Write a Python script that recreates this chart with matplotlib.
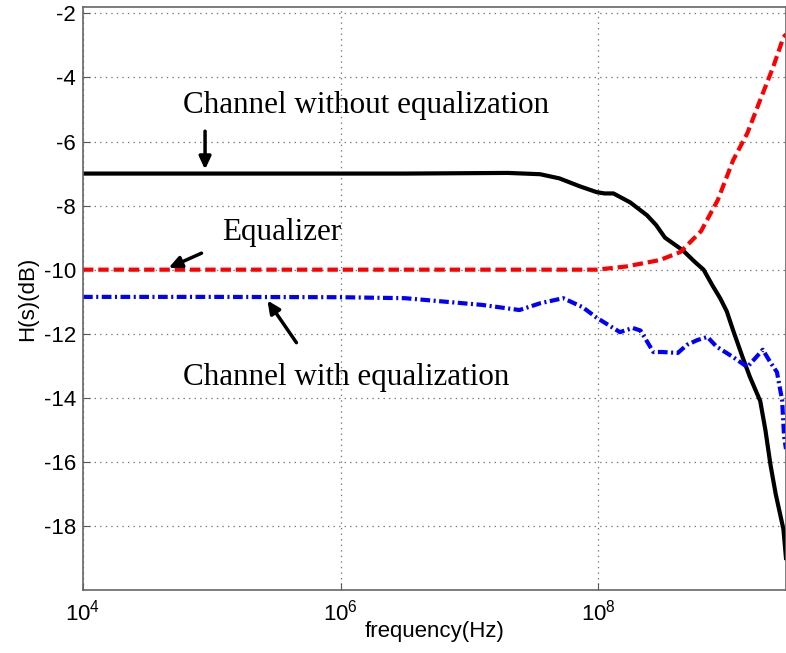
import numpy as np
import matplotlib
matplotlib.use('Agg')
import matplotlib.pyplot as plt

plt.rcParams['font.family'] = ['Liberation Sans', 'DejaVu Sans']
plt.rcParams['mathtext.fontset'] = 'custom'
plt.rcParams['mathtext.rm'] = 'Liberation Sans'
plt.rcParams['axes.unicode_minus'] = False
plt.rcParams['lines.scale_dashes'] = False

# log10(frequency) and gain in dB
ch_logf = [4.0, 6.5, 7.3, 7.55, 7.7, 7.86, 7.99, 8.05, 8.12, 8.25, 8.38, 8.45, 8.52,
           8.66, 8.75, 8.82, 8.89, 8.95, 9.0, 9.05, 9.12, 9.18, 9.26, 9.30, 9.34,
           9.38, 9.44, 9.46]
ch_db = [-7.0, -7.0, -6.98, -7.02, -7.15, -7.4, -7.58, -7.62, -7.62, -7.9, -8.3, -8.6, -9.0,
         -9.4, -9.75, -10.0, -10.5, -10.9, -11.3, -11.9, -12.7, -13.35, -14.1, -15.0, -16.1,
         -17.0, -18.1, -19.0]

eq_logf = [4.0, 7.5, 7.99, 8.22, 8.48, 8.64, 8.8, 8.93, 9.05, 9.16, 9.26, 9.36, 9.44, 9.46]
eq_db = [-10.0, -10.0, -10.0, -9.9, -9.7, -9.45, -8.8, -7.83, -6.58, -5.74, -4.7, -3.68,
         -2.75, -2.65]

cw_logf = [4.0, 5.0, 6.0, 6.5, 7.1, 7.39, 7.55, 7.73, 7.88, 7.99, 8.17, 8.27, 8.33, 8.43,
           8.50, 8.62, 8.69, 8.77, 8.85, 8.92, 9.05, 9.16, 9.28, 9.34, 9.39, 9.43, 9.445, 9.46]
cw_db = [-10.85, -10.85, -10.86, -10.89, -11.1, -11.26, -11.05, -10.89, -11.17, -11.5,
         -11.95, -11.82, -11.9, -12.57, -12.57, -12.6, -12.35, -12.2, -12.1, -12.4, -12.73,
         -13.04, -12.5, -12.9, -13.2, -14.07, -15.2, -15.6]

yticks = [-18, -16, -14, -12, -10, -8, -6, -4, -2]
xticks = [1e4, 1e6, 1e8]

fig = plt.figure(figsize=(7.86, 6.53), dpi=100)
ax = fig.add_axes([83/786, 63/653, 703/786, 583/653])

ax.plot(10**np.array(ch_logf), ch_db, color='k', lw=3)
ax.plot(10**np.array(eq_logf), eq_db, color='red', lw=3, dashes=(7.5, 3.5))
ax.plot(10**np.array(cw_logf), cw_db, color='blue', lw=3, dashes=(7, 2.5, 1.5, 2.5))

ax.set_xscale('log')
ax.set_xlim(1e4, 10**(4 + 703/128.75))
ax.set_ylim(-20, -1.8)
ax.set_xticks(xticks)
ax.minorticks_off()
ax.set_yticks(yticks)
ax.tick_params(labelsize=16, direction='in', length=5, color='#555555', pad=5)
ax.tick_params(axis='x', pad=7)
ax.grid(True, color='#777777', linestyle=(0, (1, 3)), lw=0.9)
for s in ax.spines.values():
    s.set_color('#666666')
    s.set_linewidth(1.2)

ax.set_xlabel('frequency(Hz)', fontsize=16, labelpad=-3)
ax.set_ylabel('H(s)(dB)', fontsize=16, labelpad=4)

serif = ['Liberation Serif', 'DejaVu Serif']
ax.text(10**4.777, -4.87, 'Channel without equalization', family=serif, fontsize=22.4, va='center')
ax.text(10**5.08, -8.83, 'Equalizer', family=serif, fontsize=22.4, va='center')
ax.text(10**4.777, -13.38, 'Channel with equalization', family=serif, fontsize=22.4, va='center')

arrow = dict(arrowstyle='-|>,head_length=0.75,head_width=0.35', color='k', lw=2.5)
ax.annotate('', xy=(10**4.948, -6.96), xytext=(10**4.948, -5.59), arrowprops=arrow)
ax.annotate('', xy=(10**4.645, -9.98), xytext=(10**4.94, -9.45), arrowprops=arrow)
ax.annotate('', xy=(10**5.42, -10.89), xytext=(10**5.67, -12.35), arrowprops=arrow)

fig.savefig('out.png', dpi=100)
